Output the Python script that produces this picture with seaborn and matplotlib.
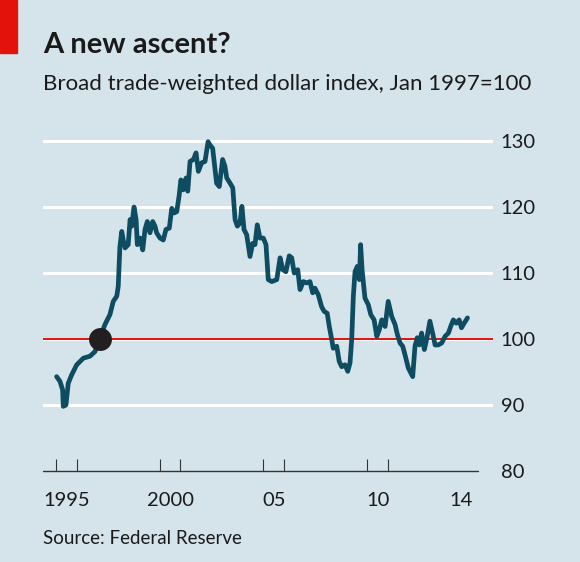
import matplotlib
matplotlib.use("Agg")
import matplotlib.pyplot as plt
from matplotlib.patches import Rectangle
import pandas as pd
import seaborn as sns

# Broad trade-weighted dollar index, Jan 1997=100
years = [
    1995.03, 1995.19, 1995.32, 1995.35, 1995.48, 1995.59, 1995.76, 1996.00,
    1996.32, 1996.64, 1996.88, 1997.10, 1997.36, 1997.60, 1997.76, 1997.93,
    1998.00, 1998.08, 1998.17, 1998.24, 1998.33, 1998.48, 1998.57, 1998.65,
    1998.76, 1998.86, 1998.92, 1999.05, 1999.18, 1999.29, 1999.40, 1999.53,
    1999.66, 1999.77, 1999.85, 2000.01, 2000.17, 2000.30, 2000.46, 2000.58,
    2000.70, 2000.82, 2000.93, 2001.02, 2001.13, 2001.27, 2001.35, 2001.46,
    2001.62, 2001.75, 2001.86, 2002.02, 2002.18, 2002.33, 2002.42, 2002.55,
    2002.74, 2002.87, 2003.03, 2003.14, 2003.23, 2003.39, 2003.52, 2003.63,
    2003.74, 2003.87, 2003.96, 2004.06, 2004.19, 2004.35, 2004.48, 2004.59,
    2004.70, 2004.83, 2004.99, 2005.12, 2005.23, 2005.40, 2005.64, 2005.80,
    2005.93, 2006.08, 2006.24, 2006.36, 2006.48, 2006.65, 2006.76, 2006.92,
    2007.08, 2007.24, 2007.37, 2007.48, 2007.64, 2007.80, 2007.92, 2008.07,
    2008.17, 2008.29, 2008.36, 2008.53, 2008.65, 2008.77, 2008.93, 2009.06,
    2009.17, 2009.25, 2009.33, 2009.41, 2009.52, 2009.62, 2009.68, 2009.75,
    2009.89, 2010.05, 2010.17, 2010.33, 2010.46, 2010.58, 2010.70, 2010.86,
    2011.01, 2011.18, 2011.34, 2011.45, 2011.58, 2011.71, 2011.82, 2011.98,
    2012.19, 2012.30, 2012.41, 2012.51, 2012.62, 2012.75, 2012.86, 2013.02,
    2013.15, 2013.27, 2013.42, 2013.59, 2013.75, 2013.91, 2014.02, 2014.15,
    2014.29, 2014.43, 2014.54, 2014.67, 2014.83,
]
index = [
    94.3, 93.6, 92.3, 89.8, 90.0, 93.3, 94.6, 96.1,
    97.1, 97.4, 98.1, 100.0, 102.2, 103.7, 105.7, 106.5,
    108.0, 114.0, 116.3, 115.0, 113.8, 114.3, 118.1, 117.1,
    120.0, 118.1, 114.3, 115.3, 113.5, 116.6, 117.8, 116.1,
    117.8, 117.1, 116.1, 115.3, 115.0, 116.6, 116.8, 119.8,
    119.1, 119.3, 121.6, 124.1, 122.6, 124.4, 122.4, 126.9,
    127.2, 128.2, 125.4, 126.7, 126.9, 129.9, 129.4, 128.9,
    123.6, 123.1, 127.2, 126.2, 124.4, 123.6, 122.9, 118.1,
    117.1, 117.6, 120.1, 116.6, 115.8, 112.5, 114.5, 114.3,
    117.3, 115.3, 115.3, 114.3, 109.0, 108.7, 109.0, 112.3,
    110.5, 110.2, 112.6, 112.3, 110.0, 110.5, 107.5, 108.7,
    108.5, 108.7, 107.0, 107.7, 106.7, 104.9, 104.2, 103.9,
    101.9, 99.9, 98.6, 98.9, 96.6, 95.8, 96.1, 95.1,
    96.4, 99.9, 106.5, 110.2, 111.0, 109.0, 114.3, 110.5,
    106.2, 105.2, 103.7, 102.9, 100.4, 101.4, 102.9, 101.9,
    105.7, 103.4, 102.2, 100.7, 99.4, 98.9, 97.6, 95.6,
    94.3, 98.9, 100.2, 99.1, 100.9, 98.4, 99.9, 102.7,
    100.9, 99.1, 99.1, 99.4, 100.4, 100.9, 101.9, 102.9,
    102.4, 102.9, 101.7, 102.4, 103.2,
]

# Base point, Jan 1997 = 100
base_year = [1997.12]
base_value = [100]

y_ticks = [80, 90, 100, 110, 120, 130]
x_tick_years = list(range(1995, 2015))
tall_tick_years = [1995, 1996, 2000, 2001, 2005, 2006, 2010, 2011]
x_label_pos = [1995.5, 2000.5, 2005.5, 2010.5, 2014.5]
x_label_text = ["1995", "2000", "05", "10", "14"]

df = pd.DataFrame({"year": years, "index": index})

BG = "#d5e3eb"
LINE = "#0d4c61"
RED = "#e3120b"
TXT = "#1a1a1a"

sns.set_theme(style="white")
plt.rcParams["font.family"] = ["Lato", "DejaVu Sans"]

fig = plt.figure(figsize=(5.8, 5.62), dpi=100, facecolor=BG)
ax = fig.add_axes([0.0741, 0.1619, 0.7759, 0.6048])
ax.set_facecolor(BG)

x0, x1 = 1994.373, 2016.06
ax.set_xlim(x0, x1)
ax.set_ylim(80, 131.5)

# gridlines
for v in y_ticks[1:]:
    ax.axhline(v, color="white", lw=2.2, zorder=1)
ax.axhline(100, color=RED, lw=1.4, zorder=2)

sns.lineplot(data=df, x="year", y="index", ax=ax, color=LINE, lw=3.4,
             zorder=3, legend=False)
ax.plot(base_year, base_value, "o", color="#231f20", ms=15.5, zorder=4)

for s in ax.spines.values():
    s.set_visible(False)

# x axis line and ticks
ax.axhline(80, xmin=0, xmax=(2015.34 - x0) / (x1 - x0),
           color="#333333", lw=1.0, zorder=5, clip_on=False)
ax.set_xticks(x_label_pos)
ax.set_xticklabels(x_label_text, fontsize=14.5, color=TXT)
ax.tick_params(axis="x", length=0, pad=15)
ax.set_xticks(x_tick_years, minor=True)
ax.tick_params(axis="x", which="minor", direction="in", length=5.5,
               width=0.8, color="#333333")
ax.vlines(tall_tick_years, 80, 81.77, color="#333333", lw=0.8, zorder=5)

ax.yaxis.tick_right()
ax.set_yticks(y_ticks)
ax.set_yticklabels([str(v) for v in y_ticks], fontsize=14.5, color=TXT)
ax.tick_params(axis="y", length=0, pad=5.5)
ax.set_xlabel("")
ax.set_ylabel("")

# red tag
fig.patches.append(Rectangle((0, 1 - 53 / 562), 17 / 580, 53 / 562,
                             transform=fig.transFigure, color=RED))

fig.text(43 / 580, 1 - 53 / 562, "A new ascent?", fontsize=21,
         fontweight="bold", color=TXT, va="baseline")
fig.text(43 / 580, 1 - 90 / 562,
         "Broad trade-weighted dollar index, Jan 1997=100",
         fontsize=16, color=TXT, va="baseline")
fig.text(43 / 580, 1 - 544 / 562, "Source: Federal Reserve", fontsize=13.5,
         color=TXT, va="baseline")

fig.savefig("out.png", dpi=100, facecolor=BG)
